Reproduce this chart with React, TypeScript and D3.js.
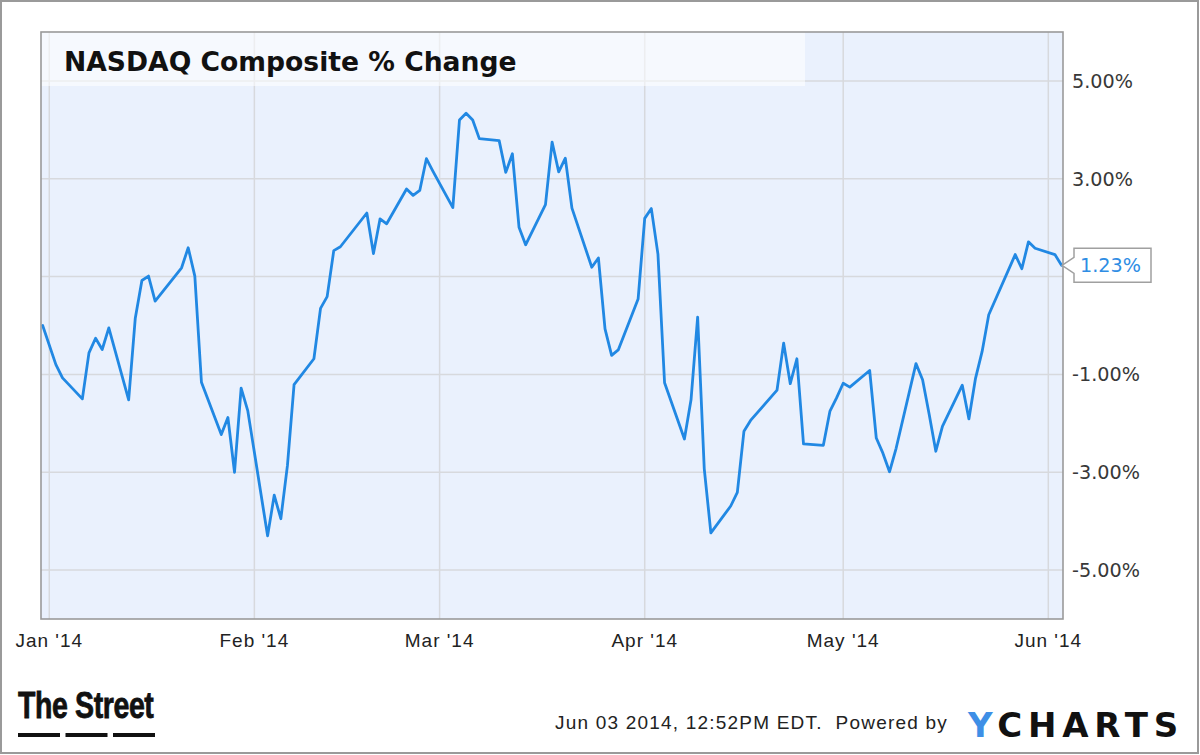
import React from "react";
import * as d3 from "d3";

// ---- data ----
const tradingDays: string[] = [
  "2013-12-31",
  "2014-01-02", "2014-01-03", "2014-01-06", "2014-01-07", "2014-01-08", "2014-01-09", "2014-01-10",
  "2014-01-13", "2014-01-14", "2014-01-15", "2014-01-16", "2014-01-17", "2014-01-21", "2014-01-22",
  "2014-01-23", "2014-01-24", "2014-01-27", "2014-01-28", "2014-01-29", "2014-01-30", "2014-01-31",
  "2014-02-03", "2014-02-04", "2014-02-05", "2014-02-06", "2014-02-07", "2014-02-10", "2014-02-11",
  "2014-02-12", "2014-02-13", "2014-02-14", "2014-02-18", "2014-02-19", "2014-02-20", "2014-02-21",
  "2014-02-24", "2014-02-25", "2014-02-26", "2014-02-27", "2014-02-28",
  "2014-03-03", "2014-03-04", "2014-03-05", "2014-03-06", "2014-03-07", "2014-03-10", "2014-03-11",
  "2014-03-12", "2014-03-13", "2014-03-14", "2014-03-17", "2014-03-18", "2014-03-19", "2014-03-20",
  "2014-03-21", "2014-03-24", "2014-03-25", "2014-03-26", "2014-03-27", "2014-03-28", "2014-03-31",
  "2014-04-01", "2014-04-02", "2014-04-03", "2014-04-04", "2014-04-07", "2014-04-08", "2014-04-09",
  "2014-04-10", "2014-04-11", "2014-04-14", "2014-04-15", "2014-04-16", "2014-04-17", "2014-04-21",
  "2014-04-22", "2014-04-23", "2014-04-24", "2014-04-25", "2014-04-28", "2014-04-29", "2014-04-30",
  "2014-05-01", "2014-05-02", "2014-05-05", "2014-05-06", "2014-05-07", "2014-05-08", "2014-05-09",
  "2014-05-12", "2014-05-13", "2014-05-14", "2014-05-15", "2014-05-16", "2014-05-19", "2014-05-20",
  "2014-05-21", "2014-05-22", "2014-05-23", "2014-05-27", "2014-05-28", "2014-05-29", "2014-05-30",
  "2014-06-02", "2014-06-03",
];

const pctChange: number[] = [
  0,
  -0.8, -1.07, -1.5, -0.56, -0.26, -0.49, -0.05,
  -1.52, 0.15, 0.92, 1.01, 0.5, 1.18, 1.59,
  1.01, -1.16, -2.23, -1.88, -3.0, -1.28, -1.74,
  -4.3, -3.47, -3.95, -2.86, -1.21, -0.68, 0.35,
  0.59, 1.53, 1.61, 2.3, 1.47, 2.18, 2.08,
  2.79, 2.66, 2.76, 3.41, 3.15,
  2.41, 4.2, 4.34, 4.2, 3.82, 3.78, 3.13,
  3.51, 2.01, 1.65, 2.47, 3.75, 3.14, 3.42,
  2.4, 1.19, 1.38, -0.07, -0.61, -0.5, 0.54,
  2.19, 2.39, 1.46, -1.17, -2.32, -1.52, 0.17,
  -2.93, -4.24, -3.69, -3.41, -2.16, -1.94, -1.32,
  -0.36, -1.19, -0.68, -2.42, -2.45, -1.75, -1.48,
  -1.18, -1.26, -0.92, -2.3, -2.61, -2.99, -2.51,
  -0.78, -1.11, -1.82, -2.57, -2.06, -1.22, -1.91,
  -1.08, -0.53, 0.22, 1.45, 1.16, 1.71, 1.58,
  1.45, 1.23,
];

const yTicks: number[] = [5, 3, 1, -1, -3, -5];
const monthTicks: string[] = ["2014-01-01", "2014-02-01", "2014-03-01", "2014-04-01", "2014-05-01", "2014-06-01"];
const title = "NASDAQ Composite % Change";
const footerText = "Jun 03 2014, 12:52PM EDT.  Powered by";

const parse = d3.utcParse("%Y-%m-%d");

export default function App() {
  const W = 1200;
  const H = 755;
  const plot = { left: 41, right: 1063, top: 32, bottom: 619 };

  const x = d3
    .scaleUtc()
    .domain([new Date(Date.UTC(2013, 11, 30, 18)), new Date(Date.UTC(2014, 5, 3, 5, 20))])
    .range([plot.left, plot.right]);
  const y = d3.scaleLinear().domain([-6, 6]).range([plot.bottom, plot.top]);

  const points = tradingDays.map((d, i) => ({ date: parse(d) as Date, v: pctChange[i] }));
  const line = d3
    .line<{ date: Date; v: number }>()
    .x((d) => x(d.date))
    .y((d) => y(d.v));

  const last = points[points.length - 1];
  const ly = y(last.v);
  const boxL = plot.right + 11;
  const boxR = boxL + 77;
  const boxT = ly - 17;
  const boxB = ly + 17;
  const callout = `M${plot.right - 1},${ly} L${boxL},${ly - 8} L${boxL},${boxT} L${boxR},${boxT} L${boxR},${boxB} L${boxL},${boxB} L${boxL},${ly + 8} Z`;

  const yFmt = (v: number) => `${v.toFixed(2)}%`;
  const xFmt = d3.utcFormat("%b '%y");

  const gridColor = "#d7d9dd";

  return (
    <svg
      width={W}
      height={H}
      style={{ position: "absolute", left: 0, top: 0, background: "#fff" }}
    >
      <defs>
        <clipPath id="plotClip">
          <rect x={plot.left} y={plot.top} width={plot.right - plot.left} height={plot.bottom - plot.top} />
        </clipPath>
      </defs>
      <rect x={0} y={0} width={W} height={H} fill="#fff" />
      {/* plot background */}
      <rect
        x={plot.left}
        y={plot.top}
        width={plot.right - plot.left}
        height={plot.bottom - plot.top}
        fill="#eaf1fd"
      />
      {/* grid */}
      {yTicks.map((t) => (
        <line key={"gy" + t} x1={plot.left} x2={plot.right} y1={y(t)} y2={y(t)} stroke={gridColor} strokeWidth={1.5} />
      ))}
      {monthTicks.map((m) => {
        const xx = x(parse(m) as Date);
        return <line key={"gx" + m} x1={xx} x2={xx} y1={plot.top} y2={plot.bottom} stroke={gridColor} strokeWidth={1.5} />;
      })}
      {/* title band */}
      <rect x={plot.left} y={plot.top} width={805 - plot.left} height={54} fill="#ffffff" opacity={0.55} />
      <text
        x={64}
        y={71}
        fontFamily="'DejaVu Sans', Verdana, sans-serif"
        fontWeight="bold"
        fontSize={26.6}
        fill="#111"
      >
        {title}
      </text>
      {/* series */}
      <path
        d={line(points) || ""}
        fill="none"
        stroke="#2188e3"
        strokeWidth={2.8}
        strokeLinejoin="round"
        strokeLinecap="round"
        clipPath="url(#plotClip)"
      />
      {/* plot border */}
      <rect
        x={plot.left}
        y={plot.top}
        width={plot.right - plot.left}
        height={plot.bottom - plot.top}
        fill="none"
        stroke="#9a9a9a"
        strokeWidth={1.6}
      />
      {/* y axis labels */}
      {yTicks.map((t) => (
        <text
          key={"yl" + t}
          x={1072}
          y={y(t)}
          dy="0.36em"
          fontFamily="'DejaVu Sans', Verdana, sans-serif"
          fontSize={19.2}
          fill="#383838"
        >
          {yFmt(t)}
        </text>
      ))}
      {/* callout (covers the 1.00% label, as in the reference) */}
      <path d={callout} fill="#fff" stroke="#a0a0a0" strokeWidth={1.5} />
      <text
        x={boxL + 6}
        y={ly}
        dy="0.36em"
        fontFamily="'DejaVu Sans', Verdana, sans-serif"
        fontSize={19.2}
        fill="#2f8de4"
      >
        {yFmt(last.v)}
      </text>
      {/* x axis labels */}
      {monthTicks.map((m) => {
        const xx = x(parse(m) as Date);
        return (
          <text
            key={"xl" + m}
            x={xx}
            y={647}
            textAnchor="middle"
            fontFamily="'Liberation Sans', Arial, sans-serif"
            fontSize={19}
            letterSpacing={1}
            fill="#222"
          >
            {xFmt(parse(m) as Date)}
          </text>
        );
      })}
      {/* The Street logo */}
      <g transform="translate(18,718) scale(0.77,1)">
        <text
          x={0}
          y={0}
          fontFamily="'Liberation Sans', Arial, sans-serif"
          fontWeight="bold"
          fontSize={37}
          letterSpacing={-0.5}
          fill="#111"
          stroke="#111"
          strokeWidth={0.8}
        >
          The Street
        </text>
      </g>
      {[0, 1, 2].map((i) => (
        <rect key={"dash" + i} x={18 + i * 47.5} y={733} width={42} height={4} fill="#111" />
      ))}
      {/* footer */}
      <text
        x={555}
        y={729}
        fontFamily="'Liberation Sans', Arial, sans-serif"
        fontSize={19}
        letterSpacing={1.2}
        fill="#222"
        style={{ whiteSpace: "pre" }}
      >
        {footerText}
      </text>
      <text
        x={968}
        y={737}
        fontFamily="'DejaVu Sans', Verdana, sans-serif"
        fontWeight="bold"
        fontSize={34}
        letterSpacing={5.8}
      >
        <tspan fill="#3e8fe6">Y</tspan>
        <tspan fill="#111">CHARTS</tspan>
      </text>
      {/* outer border */}
      <rect x={1} y={1} width={W - 3} height={H - 3} fill="none" stroke="#9a9a9a" strokeWidth={2} />
    </svg>
  );
}
